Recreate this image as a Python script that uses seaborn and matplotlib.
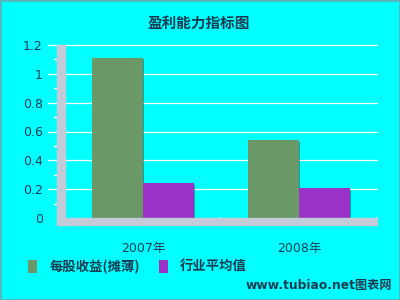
import pandas as pd
import matplotlib
matplotlib.use("Agg")
import matplotlib.pyplot as plt
from matplotlib.patches import Rectangle, Patch
import seaborn as sns

# ------------------------
# Données
# ------------------------
years = ["2007年", "2008年"]
eps_diluted = [1.11, 0.54]
industry_avg = [0.24, 0.205]
series_names = ["每股收益(摊薄)", "行业平均值"]
y_ticks = [0, 0.2, 0.4, 0.6, 0.8, 1, 1.2]
y_tick_labels = ["0", "0.2", "0.4", "0.6", "0.8", "1", "1.2"]

df = pd.DataFrame({
    "year": years * 2,
    "value": eps_diluted + industry_avg,
    "serie": [series_names[0]] * len(years) + [series_names[1]] * len(years),
})

# ------------------------
# Style
# ------------------------
sns.set_theme(style="white")
plt.rcParams["font.family"] = ["DejaVu Sans", "Noto Sans CJK SC"]

bg = "#00ffff"
txt_col = "#173c52"
axis_gray = "#c3cad8"
colors = ["#6a9866", "#9a32c8"]

fig = plt.figure(figsize=(4, 3), dpi=100, facecolor=bg)
W, H = 400, 300
ax = fig.add_axes([65 / W, 1 - 218 / H, 312 / W, 173 / H])
ax.set_facecolor(bg)

sns.barplot(data=df, x="year", y="value", hue="serie", palette=colors,
            width=0.654, saturation=1, linewidth=0, edgecolor="none",
            ax=ax, legend=False, zorder=3)

ax.set_ylim(0, 1.2)
ax.set_xlim(-0.5, 1.5)

# ombres des barres
for p in list(ax.patches):
    x, y0 = p.get_x(), p.get_y()
    w, h = p.get_width(), p.get_height()
    if h <= 0:
        continue
    ax.add_patch(Rectangle((x + 0.009, y0), w, h - 0.01,
                           color="#1f4a48", alpha=0.5, lw=0, zorder=2))

# grille horizontale (dépasse à gauche)
for t in y_ticks[1:]:
    ax.axhline(t, xmin=-0.055, xmax=1.0, color="white", lw=0.9,
               clip_on=False, zorder=1)

for s in ax.spines.values():
    s.set_visible(False)
ax.set_yticks(y_ticks)
ax.set_yticklabels(y_tick_labels)
ax.tick_params(axis="y", length=0, pad=16, labelsize=9, labelcolor=txt_col)
ax.tick_params(axis="x", length=0, pad=17, labelsize=9, labelcolor=txt_col)
ax.set_xlabel("")
ax.set_ylabel("")

# barres grises des axes
fig.add_artist(Rectangle((57 / W, 1 - 225 / H), 8 / W, 180 / H,
                         transform=fig.transFigure, color=axis_gray, zorder=5))
fig.add_artist(Rectangle((57 / W, 1 - 225 / H), 320 / W, 7 / H,
                         transform=fig.transFigure, color=axis_gray, zorder=5))
# petites graduations blanches
for t in [0.1, 0.3, 0.5, 0.7, 0.9, 1.1]:
    ax.plot([-0.035, -0.011], [t, t], transform=ax.get_yaxis_transform(),
            color="white", lw=1, clip_on=False, zorder=6)
for xv in [0.0, 0.5, 1.0]:
    ax.plot([xv, xv], [0, -0.04], transform=ax.transAxes,
            color="white", lw=1.3, clip_on=False, zorder=6)

# titre
fig.text(199 / W, 1 - 23 / H, "盈利能力指标图", ha="center", va="center",
         fontsize=10.5, fontweight="bold", color=txt_col,
         family=["Noto Sans CJK SC"])

# légende
handles = [Patch(facecolor=c, edgecolor="none") for c in colors]
fig.legend(handles, series_names, loc="center left",
           bbox_to_anchor=(16 / W, 1 - 267 / H), ncol=2, frameon=False,
           handlelength=0.7, handleheight=1.1, handletextpad=0.9,
           columnspacing=1.4,
           prop={"family": ["Noto Sans CJK SC"], "weight": "bold", "size": 9.6},
           labelcolor=txt_col)

# filigrane
fig.text(392 / W, 1 - 286 / H, "www.tubiao.net图表网", ha="right", va="center",
         fontsize=8.8, fontweight="bold", color=txt_col,
         family=["DejaVu Sans", "Noto Sans CJK SC"])

# bordure
fig.add_artist(Rectangle((0, 0), 1, 1, transform=fig.transFigure, fill=False,
                         edgecolor="#58b4b8", lw=2))

fig.savefig("out.png", dpi=100, facecolor=bg)
